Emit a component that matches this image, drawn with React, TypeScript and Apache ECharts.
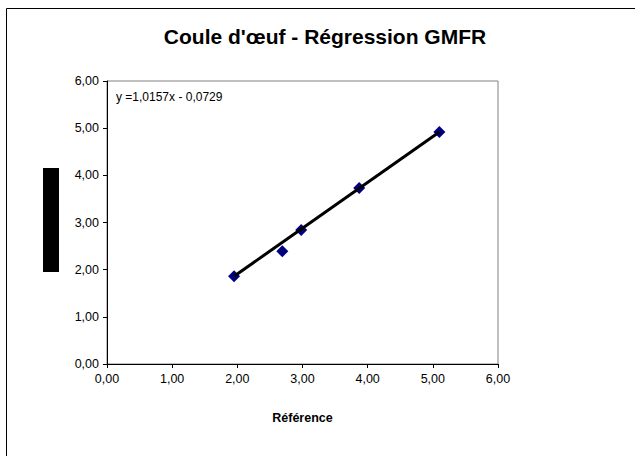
import React, { useEffect, useRef } from "react";
import * as echarts from "echarts";

const titleText = "Coule d'œuf - Régression GMFR";
const xAxisTitle = "Référence";
const equationText = "y =1,0157x - 0,0729";
const referenceValues = [1.95, 2.69, 2.98, 3.87, 5.1];
const measuredValues = [1.86, 2.39, 2.84, 3.73, 4.92];
const trendX = [1.95, 5.1];
const trendY = [1.86, 4.92];
const axisMin = 0;
const axisMax = 6;
const axisStep = 1;

const FONT = "Liberation Sans, Arial, sans-serif";
const fmt = (v: number) => v.toFixed(2).replace(".", ",");

export default function App() {
  const ref = useRef<HTMLDivElement>(null);
  useEffect(() => {
    if (!ref.current) return;
    const chart = echarts.init(ref.current, null, { renderer: "svg" });
    const points = referenceValues.map((x, i) => [x, measuredValues[i]]);
    const trend = trendX.map((x, i) => [x, trendY[i]]);
    chart.setOption({
      animation: false,
      backgroundColor: "#ffffff",
      textStyle: { fontFamily: FONT },
      title: {
        text: titleText,
        left: 320,
        top: 21,
        textAlign: "center",
        textStyle: { fontFamily: FONT, fontSize: 21, fontWeight: "bold", color: "#000" },
      },
      grid: {
        left: 107,
        right: 137,
        top: 81,
        bottom: 92,
        show: true,
        borderColor: "#808080",
        borderWidth: 1,
        backgroundColor: "#ffffff",
      },
      xAxis: {
        type: "value",
        min: axisMin,
        max: axisMax,
        interval: axisStep,
        name: xAxisTitle,
        nameLocation: "middle",
        nameGap: 47,
        nameTextStyle: { fontFamily: FONT, fontSize: 12.5, fontWeight: "bold", color: "#000" },
        axisLine: { show: true, lineStyle: { color: "#000", width: 1 } },
        axisTick: { show: true, length: 4, lineStyle: { color: "#000" } },
        axisLabel: { formatter: fmt, fontFamily: FONT, fontSize: 12.5, color: "#000", margin: 8 },
        splitLine: { show: false },
      },
      yAxis: {
        type: "value",
        min: axisMin,
        max: axisMax,
        interval: axisStep,
        axisLine: { show: true, lineStyle: { color: "#000", width: 1 } },
        axisTick: { show: true, length: 4, lineStyle: { color: "#000" } },
        axisLabel: { formatter: fmt, fontFamily: FONT, fontSize: 12.5, color: "#000", margin: 8 },
        splitLine: { show: false },
      },
      graphic: [
        {
          type: "rect",
          shape: { x: 6.5, y: 8.5, width: 700, height: 600 },
          style: { fill: "none", stroke: "#000", lineWidth: 1 },
          silent: true,
          z: 100,
        },
        {
          type: "rect",
          shape: { x: 43, y: 168, width: 16, height: 104 },
          style: { fill: "#000" },
          silent: true,
        },
        {
          type: "text",
          x: 116,
          y: 91,
          style: { text: equationText, fontFamily: FONT, fontSize: 12, fill: "#000" },
          silent: true,
          z: 50,
        },
      ],
      series: [
        {
          type: "line",
          data: trend,
          symbol: "none",
          lineStyle: { color: "#000", width: 3 },
          z: 3,
        },
        {
          type: "scatter",
          data: points,
          symbol: "diamond",
          symbolSize: 12,
          itemStyle: { color: "#000080", opacity: 1 },
          z: 2,
        },
      ],
    });
    return () => chart.dispose();
  }, []);
  return <div ref={ref} style={{ width: 635, height: 456, position: "absolute", left: 0, top: 0 }} />;
}
